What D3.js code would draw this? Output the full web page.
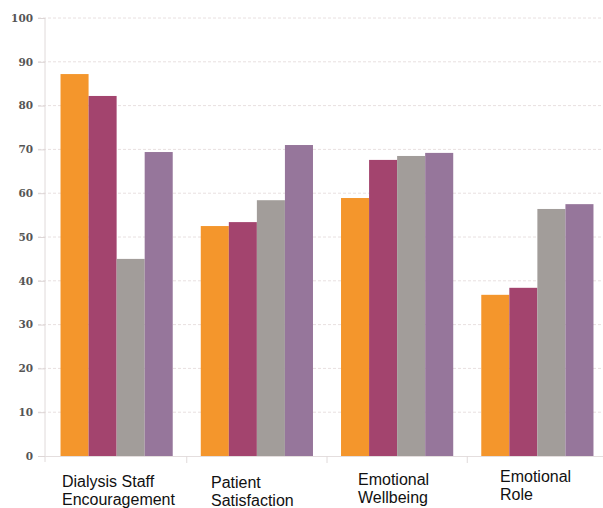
<!DOCTYPE html>
<html><head><meta charset="utf-8">
<script src="https://cdn.jsdelivr.net/npm/d3@7"></script>
<style>body{margin:0;background:#fff}svg{display:block}</style>
</head><body>
<svg id="c" width="603" height="508"></svg>
<script>
const categories = [["Dialysis Staff","Encouragement"],["Patient","Satisfaction"],["Emotional","Wellbeing"],["Emotional","Role"]];
const seriesNames = ["S1","S2","S3","S4"];
const seriesColors = ["#F4962C","#A3446E","#A29D9A","#96769B"];
const values = [
  [87.2, 82.2, 45.0, 69.4],
  [52.5, 53.4, 58.4, 71.0],
  [58.9, 67.6, 68.5, 69.2],
  [36.8, 38.4, 56.4, 57.5]
];
const yTicks = [0,10,20,30,40,50,60,70,80,90,100];

const svg = d3.select("#c");
const x = d3.scaleBand().domain(d3.range(categories.length)).range([46.5,607.5]).paddingInner(0.2).paddingOuter(0.1);
const xs = d3.scaleBand().domain(d3.range(seriesNames.length)).range([0,x.bandwidth()]);
const y = d3.scaleLinear().domain([0,100]).range([456,18]);

// gridlines
svg.append("g").selectAll("line").data(yTicks.filter(d=>d>0)).join("line")
  .attr("x1",38).attr("x2",603).attr("y1",d=>y(d)).attr("y2",d=>y(d))
  .attr("stroke","#e8e0e0").attr("stroke-width",1).attr("stroke-dasharray","3,2");

// y axis
const yAxis = svg.append("g").attr("transform","translate(45,0)")
  .call(d3.axisLeft(y).tickValues(yTicks).tickSize(7).tickPadding(5));
yAxis.select(".domain").attr("stroke","#e0dada").attr("d","M0,18V462");
yAxis.selectAll(".tick line").attr("stroke","#ddd6d6");
yAxis.selectAll("text").attr("font-family","'DejaVu Serif', 'Liberation Serif', serif").attr("font-size",10.5)
  .attr("font-weight","bold").attr("fill","#555");

// x axis
svg.append("line").attr("x1",45).attr("x2",603).attr("y1",456.5).attr("y2",456.5).attr("stroke","#e4dede");
svg.append("g").selectAll("line").data(d3.range(1,categories.length)).join("line")
  .attr("x1",i=>x(i)-x.step()*x.paddingInner()/2).attr("x2",i=>x(i)-x.step()*x.paddingInner()/2)
  .attr("y1",456).attr("y2",463).attr("stroke","#e0dada");

// bars
const g = svg.append("g");
values.forEach((row,i)=>{
  g.selectAll(null).data(row).join("rect")
    .attr("x",(d,j)=>x(i)+xs(j)).attr("width",xs.bandwidth())
    .attr("y",d=>y(d)).attr("height",d=>y(0)-y(d))
    .attr("fill",(d,j)=>seriesColors[j]);
});

// category labels
const labelX = [62, 211, 358, 500];
const labelY = [486.5, 487.5, 485, 482];
categories.forEach((lines,i)=>{
  const t = svg.append("text").attr("y",labelY[i])
    .attr("font-family","'Liberation Sans', Arial, sans-serif").attr("font-size",16).attr("fill","#111");
  lines.forEach((l,k)=>t.append("tspan").attr("x",labelX[i]).attr("dy",k==0?0:18).text(l));
});
</script>
</body></html>
